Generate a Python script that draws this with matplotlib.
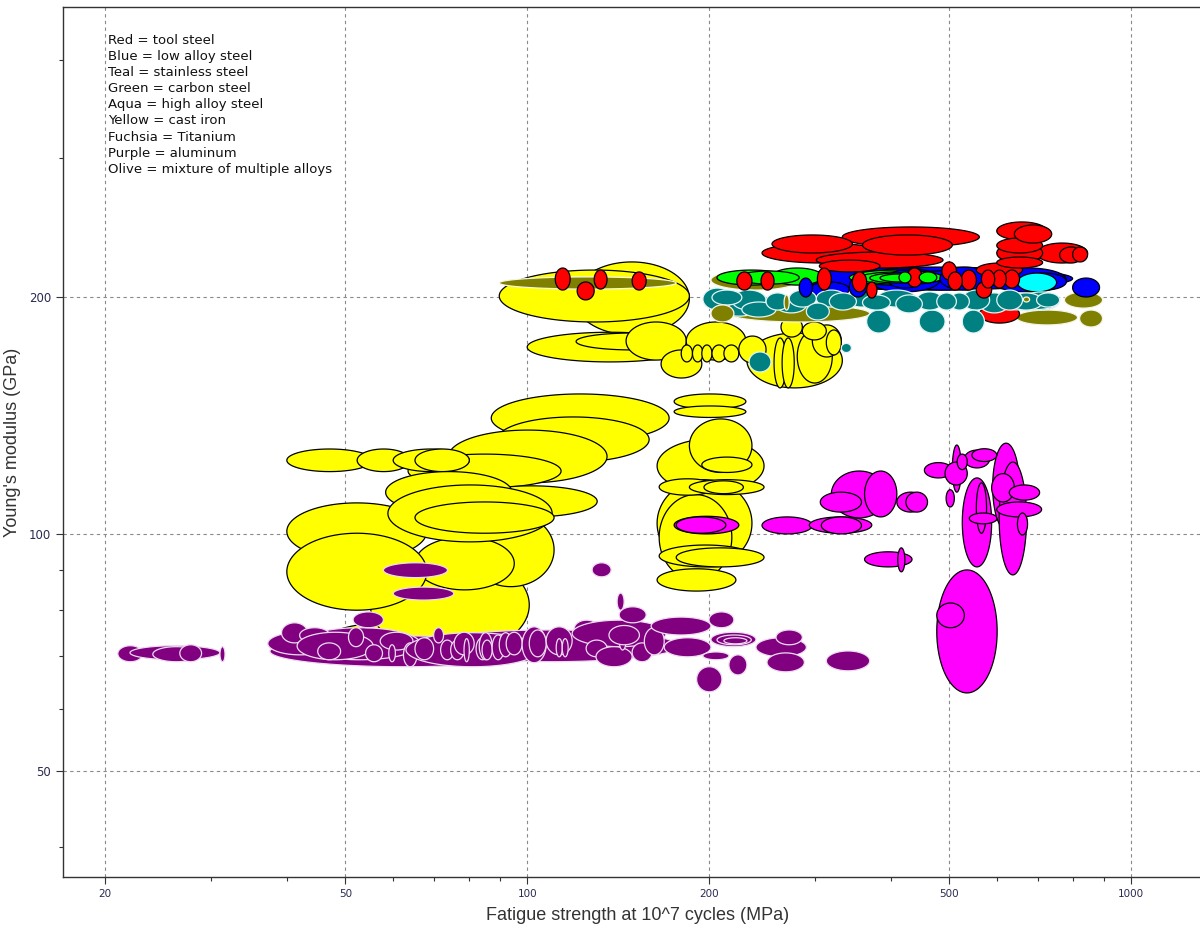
import numpy as np
import matplotlib
matplotlib.use('Agg')
import matplotlib.pyplot as plt
from matplotlib.ticker import FixedLocator, LogLocator, NullFormatter

# each material: (fatigue low, fatigue high, modulus low, modulus high)
# fatigue strength in MPa, Young's modulus in GPa
cast_iron = [
    (119.6, 185.6, 179.0, 221.6), (89.9, 185.6, 185.9, 216.4),
    (100.0, 187.8, 165.4, 180.4), (120.5, 185.6, 171.3, 180.0),
    (145.8, 183.4, 166.3, 185.9), (166.6, 194.6, 157.8, 171.3),
    (183.4, 230.2, 166.3, 185.9), (231.1, 332.5, 153.3, 180.0),
    (256.3, 268.4, 153.3, 177.4), (264.3, 276.8, 153.3, 177.4),
    (280.0, 320.0, 155.5, 181.6), (296.6, 331.2, 167.8, 184.3),
    (263.2, 285.5, 177.9, 188.6), (285.5, 312.8, 176.4, 185.9),
    (312.8, 331.2, 168.8, 181.6), (179.9, 187.8, 165.4, 173.8),
    (187.8, 195.4, 165.4, 173.8), (194.6, 202.3, 165.4, 173.8),
    (202.3, 213.3, 165.4, 173.8), (211.7, 224.1, 165.4, 173.8),
    (224.1, 248.6, 164.9, 178.4),
    (45.4, 97.0, 68.2, 77.7), (55.0, 100.8, 70.2, 94.0),
    (79.7, 110.8, 85.7, 106.3), (65.2, 95.2, 84.9, 99.1),
    (40.0, 68.2, 92.7, 109.5), (40.0, 68.2, 80.0, 100.2),
    (87.2, 171.8, 130.8, 150.6), (89.2, 159.2, 123.4, 140.8),
    (74.1, 135.6, 116.1, 135.5), (63.5, 113.8, 114.4, 126.3),
    (40.0, 55.4, 120.0, 128.2), (52.3, 64.0, 120.0, 128.2),
    (60.0, 80.2, 120.0, 128.2), (65.2, 80.2, 120.0, 128.2),
    (79.2, 130.6, 105.1, 115.1), (58.3, 94.4, 106.3, 120.0),
    (58.8, 110.0, 97.7, 115.4), (65.2, 110.8, 100.2, 109.8),
    (164.1, 246.7, 112.8, 132.0), (185.6, 235.6, 119.7, 140.0),
    (194.6, 235.6, 119.7, 125.2), (164.1, 235.6, 90.8, 117.2),
    (165.4, 218.2, 87.4, 112.2), (165.4, 205.4, 112.0, 117.5),
    (185.6, 246.7, 112.2, 117.2), (196.2, 228.0, 112.5, 116.8),
    (165.4, 235.6, 90.8, 96.8), (176.5, 246.7, 90.8, 96.0),
    (164.1, 221.6, 84.6, 90.3), (175.1, 230.2, 144.1, 150.6),
    (175.1, 230.2, 140.6, 145.4),
]

mixed_alloys = [
    (89.9, 176.5, 204.7, 212.1), (201.5, 282.1, 204.1, 216.4),
    (215.8, 369.1, 185.9, 195.4), (201.5, 219.9, 185.9, 195.4),
    (266.3, 271.5, 192.5, 201.2), (775.4, 896.7, 193.6, 203.0),
    (645.7, 815.3, 184.3, 192.5), (821.5, 896.7, 183.2, 192.5),
    (663.0, 679.0, 197.1, 200.0),
]

stainless = [
    (233.0, 253.3, 160.6, 170.3), (331.2, 344.2, 170.0, 174.6),
    (195.4, 218.2, 192.5, 205.3), (202.3, 226.7, 195.4, 204.1),
    (207.8, 242.0, 189.1, 199.4), (218.2, 248.6, 192.5, 204.1),
    (226.7, 258.2, 188.6, 197.1), (248.6, 271.5, 192.5, 202.4),
    (258.2, 289.9, 190.9, 200.0), (271.5, 301.1, 194.2, 204.1),
    (289.9, 316.4, 187.0, 196.5), (301.1, 337.6, 194.2, 204.1),
    (316.4, 350.8, 192.5, 202.4), (337.6, 379.4, 194.2, 204.1),
    (359.1, 399.3, 192.5, 201.2), (379.4, 440.6, 194.2, 204.1),
    (407.7, 451.1, 190.9, 201.2), (440.6, 488.1, 192.5, 203.0),
    (476.6, 513.6, 192.5, 202.4), (500.0, 539.6, 192.5, 202.4),
    (525.3, 583.0, 192.5, 204.1), (560.6, 628.4, 190.9, 202.4),
    (599.1, 660.9, 192.5, 204.1), (628.4, 713.5, 192.5, 202.4),
    (660.9, 761.3, 192.5, 203.0), (589.8, 752.6, 192.5, 198.3),
    (697.3, 761.3, 194.2, 202.4), (364.8, 400.2, 180.0, 192.5),
    (445.7, 491.9, 180.0, 192.5), (525.3, 571.6, 180.0, 192.5),
]

low_alloy = [
    (271.5, 800.0, 204.1, 218.3), (394.6, 451.1, 205.3, 216.4),
    (482.3, 583.0, 204.1, 218.3), (583.0, 781.3, 203.0, 217.7),
    (660.9, 781.3, 204.1, 214.5), (800.0, 886.5, 200.0, 211.4),
    (282.1, 296.6, 200.0, 211.4), (341.5, 364.8, 200.0, 212.1),
    (369.0, 482.0, 203.0, 217.7), (412.7, 583.0, 204.1, 216.0),
    (293.0, 341.5, 200.0, 209.0),
]

carbon = [
    (206.2, 268.4, 207.1, 216.4), (224.1, 282.1, 207.7, 215.8),
    (254.3, 308.1, 207.1, 217.7), (341.5, 488.1, 207.1, 216.4),
    (354.9, 471.1, 207.7, 215.2), (369.1, 459.0, 208.4, 214.5),
    (383.9, 445.7, 209.0, 213.9), (445.7, 476.6, 208.4, 215.2),
    (412.7, 432.0, 208.4, 215.2),
]

tool = [
    (254.3, 345.5, 227.5, 239.8), (244.8, 388.5, 220.9, 234.2),
    (332.5, 560.6, 231.5, 245.5), (359.1, 505.8, 226.1, 239.8),
    (301.1, 488.1, 217.7, 228.1), (304.6, 383.9, 215.2, 222.8),
    (599.1, 724.6, 236.3, 249.1), (640.7, 738.7, 234.2, 246.9),
    (599.1, 713.5, 227.5, 237.7), (599.1, 713.5, 220.9, 234.2),
    (599.1, 713.5, 217.7, 224.8), (697.3, 847.0, 220.9, 234.2),
    (761.3, 830.9, 220.9, 231.5), (800.0, 847.0, 221.6, 231.5),
    (554.2, 660.9, 212.1, 220.9), (560.6, 653.3, 185.3, 195.4),
    (222.4, 235.6, 204.1, 215.2), (243.9, 256.3, 204.1, 215.2),
    (302.3, 318.8, 204.1, 217.7), (345.5, 364.8, 203.0, 215.2),
    (364.8, 379.4, 199.4, 209.0), (425.3, 451.1, 205.9, 217.7),
    (486.1, 513.6, 210.2, 221.6), (497.7, 525.3, 204.1, 215.2),
    (523.3, 554.2, 204.1, 216.4), (554.2, 587.5, 199.4, 209.0),
    (565.1, 594.4, 205.3, 216.4), (589.8, 621.2, 205.3, 216.4),
    (616.5, 653.3, 205.3, 216.4),
    (111.3, 117.8, 204.1, 217.7), (121.0, 129.1, 198.3, 209.0),
    (129.1, 135.6, 204.7, 216.4), (149.2, 157.4, 204.1, 215.2),
]

high_alloy = [
    (648.2, 752.6, 203.0, 214.5),
]

aluminum = [
    (37.5, 104.7, 67.8, 74.2), (66.5, 178.5, 68.8, 75.5),
    (42.0, 66.5, 69.2, 76.0),
    (21.0, 23.1, 68.8, 72.1), (22.0, 31.0, 69.2, 72.1),
    (24.0, 28.7, 68.8, 71.9), (26.6, 28.9, 68.8, 72.3),
    (31.0, 31.6, 68.8, 71.9),
    (37.2, 47.6, 70.2, 75.0), (39.2, 43.3, 72.7, 77.1),
    (42.0, 47.1, 72.7, 76.0), (41.6, 55.6, 69.2, 75.0),
    (45.0, 49.1, 69.2, 72.7), (50.6, 53.6, 71.9, 76.0),
    (51.5, 57.8, 76.0, 79.6), (54.0, 57.6, 68.8, 72.3),
    (57.1, 64.7, 71.2, 75.0), (59.0, 60.5, 68.8, 72.3),
    (62.4, 65.7, 67.8, 72.7), (63.0, 104.7, 67.8, 74.9),
    (65.2, 70.0, 69.2, 73.8), (70.0, 72.7, 72.7, 76.0),
    (71.9, 75.6, 69.2, 73.3), (74.7, 78.6, 69.2, 73.3),
    (75.7, 81.7, 70.2, 75.0), (78.6, 80.2, 68.8, 73.6),
    (82.3, 86.5, 69.2, 73.8), (83.3, 87.5, 69.2, 74.9),
    (84.2, 87.5, 69.2, 73.3), (87.5, 91.6, 69.2, 74.4),
    (89.9, 94.4, 69.8, 74.9), (92.3, 98.1, 70.2, 75.0),
    (98.1, 107.5, 68.6, 76.2), (100.8, 107.5, 69.8, 75.5),
    (107.5, 118.7, 70.2, 76.2), (111.7, 114.3, 69.8, 73.6),
    (114.3, 116.9, 69.8, 73.6), (119.6, 131.6, 73.8, 77.7),
    (118.7, 169.8, 71.9, 77.7), (125.2, 135.6, 69.8, 73.3),
    (130.0, 149.2, 67.8, 71.9), (142.0, 145.8, 71.2, 75.5),
    (149.2, 161.0, 68.8, 72.7), (136.6, 153.4, 72.3, 76.5),
    (156.3, 168.6, 70.2, 76.0), (142.0, 157.4, 77.1, 80.8),
    (140.9, 144.7, 80.0, 84.1), (128.1, 137.7, 88.2, 91.9),
    (160.4, 201.5, 74.4, 78.4), (168.6, 201.5, 69.8, 73.8),
    (200.0, 219.9, 76.0, 79.6), (201.5, 239.2, 71.9, 75.0),
    (206.2, 235.0, 72.3, 74.4), (211.7, 231.1, 72.5, 73.8),
    (195.4, 215.8, 69.2, 70.8), (215.8, 231.1, 66.2, 70.2),
    (190.8, 210.1, 63.0, 67.8), (239.2, 289.9, 69.8, 73.8),
    (258.2, 285.5, 72.3, 75.5), (249.5, 287.7, 66.8, 70.6),
    (312.8, 369.1, 67.0, 71.0),
    (57.8, 73.8, 88.0, 91.9), (60.0, 75.6, 82.4, 85.6),
]

titanium = [
    (244.8, 296.6, 100.0, 105.1), (293.2, 372.0, 100.2, 105.1),
    (306.9, 357.7, 100.0, 105.1), (318.8, 394.6, 104.8, 120.2),
    (361.9, 409.3, 105.1, 120.2), (305.7, 357.7, 106.6, 113.0),
    (409.3, 454.6, 106.6, 113.0), (423.7, 460.1, 106.6, 113.0),
    (454.6, 505.8, 117.8, 123.2), (493.9, 509.6, 108.2, 113.8),
    (505.8, 523.3, 113.0, 129.7), (491.9, 535.4, 115.4, 123.4),
    (529.4, 583.0, 121.3, 127.8), (525.3, 587.5, 90.8, 117.8),
    (554.2, 576.2, 100.2, 116.1), (539.6, 600.0, 103.0, 106.3),
    (589.8, 653.3, 101.2, 130.4), (604.6, 671.1, 88.7, 123.4),
    (587.5, 640.7, 109.8, 119.3), (628.4, 705.4, 110.4, 115.4),
    (599.1, 710.8, 105.1, 109.8), (648.2, 673.7, 99.7, 106.3),
    (515.1, 535.4, 120.7, 126.3), (544.9, 599.1, 123.6, 128.3),
    (361.9, 433.7, 90.8, 94.9), (410.8, 422.0, 89.5, 96.0),
    (476.6, 600.0, 62.8, 90.0), (476.6, 529.4, 76.0, 81.7),
    (175.1, 224.1, 100.0, 105.3), (176.5, 213.3, 100.2, 105.1),
]

legend_lines = [
    'Red = tool steel', 'Blue = low alloy steel', 'Teal = stainless steel',
    'Green = carbon steel', 'Aqua = high alloy steel', 'Yellow = cast iron',
    'Fuchsia = Titanium', 'Purple = aluminum',
    'Olive = mixture of multiple alloys',
]

xticks = [20, 50, 100, 200, 500, 1000]
yticks = [50, 100, 200]


def ellipse(lo, hi, elo, ehi, n=120):
    # ellipse inscribed in the range box, round in log space
    t = np.linspace(0, 2 * np.pi, n)
    lx0, lx1 = np.log10(lo), np.log10(hi)
    ly0, ly1 = np.log10(elo), np.log10(ehi)
    x = 10 ** ((lx0 + lx1) / 2 + (lx1 - lx0) / 2 * np.cos(t))
    y = 10 ** ((ly0 + ly1) / 2 + (ly1 - ly0) / 2 * np.sin(t))
    return x, y


def draw(items, fc, ec):
    for lo, hi, elo, ehi in items:
        x, y = ellipse(lo, hi, elo, ehi)
        ax.fill(x, y, facecolor=fc, edgecolor=ec, linewidth=0.9)


fig = plt.figure(figsize=(12, 9.26), dpi=100)
ax = fig.add_axes([63 / 1200, 49 / 926, 1149 / 1200, 870 / 926])
ax.set_xscale('log')
ax.set_yscale('log')
ax.set_xlim(17.04, 1361)
ax.set_ylim(36.65, 467.2)

# cast iron underneath everything
draw(cast_iron, '#ffff00', 'black')

# the steels overlap a lot: big bubbles first, small ones on top
steels = [
    (mixed_alloys, '#808000', '#f4f4e8'),
    (stainless, '#008080', '#e4f4f4'),
    (low_alloy, '#0000ff', 'black'),
    (carbon, '#00ff00', 'black'),
    (tool, '#ff0000', 'black'),
    (high_alloy, '#00ffff', 'black'),
]
bubbles = []
for items, fc, ec in steels:
    for lo, hi, elo, ehi in items:
        size = np.log10(hi / lo) * np.log10(ehi / elo)
        bubbles.append((size, (lo, hi, elo, ehi), fc, ec))
bubbles.sort(key=lambda b: -b[0])
for size, box, fc, ec in bubbles:
    draw([box], fc, ec)

draw(aluminum, '#800080', '#eedcf0')
draw(titanium, '#ff00ff', 'black')

ax.xaxis.set_major_locator(FixedLocator(xticks))
ax.set_xticklabels([str(v) for v in xticks])
ax.xaxis.set_minor_locator(LogLocator(base=10, subs=np.arange(2, 10)))
ax.xaxis.set_minor_formatter(NullFormatter())
ax.yaxis.set_major_locator(FixedLocator(yticks))
ax.set_yticklabels([str(v) for v in yticks])
ax.yaxis.set_minor_locator(LogLocator(base=10, subs=np.arange(2, 10)))
ax.yaxis.set_minor_formatter(NullFormatter())

ax.tick_params(which='major', length=5, width=0.8, labelcolor='#2a2a50',
               color='#333333')
ax.tick_params(axis='x', which='major', labelsize=7.5)
ax.tick_params(axis='y', which='major', labelsize=8.5)
ax.tick_params(which='minor', length=3, width=0.8, color='#333333')

ax.set_axisbelow(True)
ax.grid(True, which='major', linestyle=(0, (3, 3)), color='#8a8a8a',
        linewidth=0.8)
for s in ax.spines.values():
    s.set_color('#333333')
    s.set_linewidth(1.0)

ax.set_xlabel('Fatigue strength at 10^7 cycles (MPa)', fontsize=13,
              family='Liberation Sans', color='#333333', labelpad=6)
ax.set_ylabel("Young's modulus (GPa)", fontsize=13,
              family='Liberation Sans', color='#333333', labelpad=6)

for i, line in enumerate(legend_lines):
    ax.text(0.039, 0.962 - i * 0.0186, line, transform=ax.transAxes,
            fontsize=9.5, family='DejaVu Sans', color='#111111', va='center')

fig.savefig('out.png', dpi=100)
